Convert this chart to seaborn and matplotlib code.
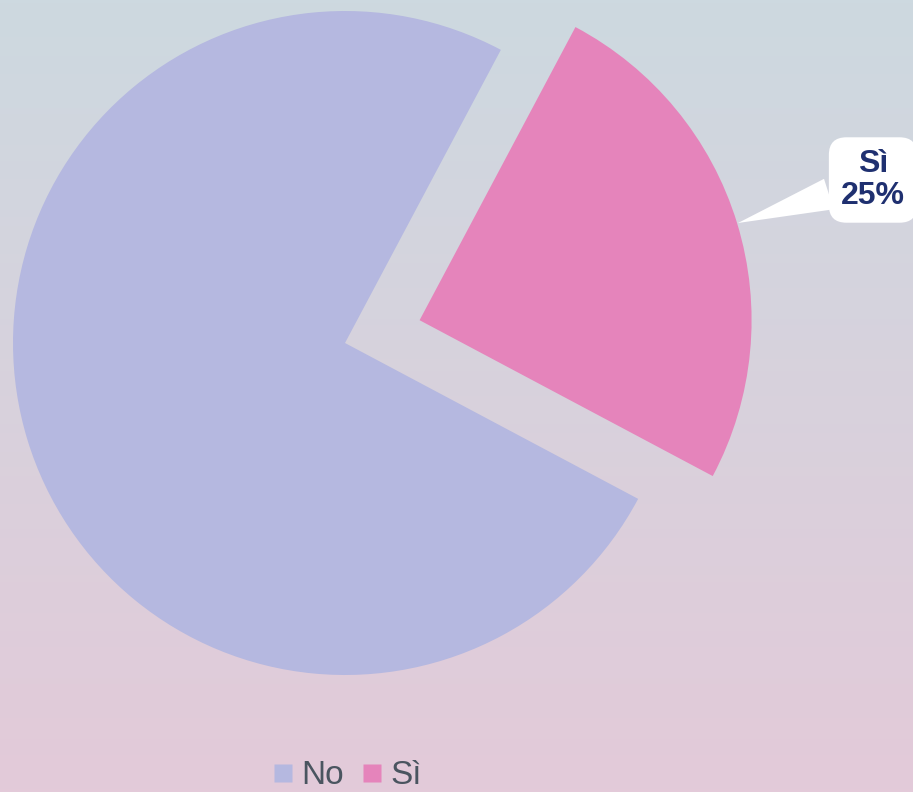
import numpy as np
import matplotlib
matplotlib.use("Agg")
import matplotlib.pyplot as plt
from matplotlib.lines import Line2D
from matplotlib.colors import LinearSegmentedColormap
import seaborn as sns

categories = ["No", "Sì"]
values = [75, 25]
label_text = "Sì\n25%"
colors = ["#B5B8E0", "#E584BB"]

sns.set_style("white")
plt.rcParams['font.family'] = ['Liberation Sans', 'DejaVu Sans']

W, H = 913, 792
fig = plt.figure(figsize=(W / 100, H / 100), dpi=100)
ax = fig.add_axes([0, 0, 1, 1])
ax.set_xlim(0, W)
ax.set_ylim(0, H)
ax.set_axis_off()

# gradient background
cmap = LinearSegmentedColormap.from_list("bg", ["#E3CAD9", "#CDD9E0"])
grad = np.linspace(0, 1, 256).reshape(-1, 1)
ax.imshow(grad, extent=[0, W, 0, H], origin="lower", cmap=cmap, aspect="auto", zorder=0)

pal = sns.color_palette(colors)
wedges, _ = ax.pie(values, colors=pal, startangle=62, counterclock=True,
                   center=(345, 449), radius=332, explode=[0, 78],
                   wedgeprops=dict(linewidth=0), frame=True)
for w in wedges:
    w.set_zorder(2)
ax.set_xlim(0, W)
ax.set_ylim(0, H)
ax.set_aspect("equal")
ax.set_axis_off()

ax.annotate(label_text, xy=(738, 569), xytext=(873, 612),
            ha="center", va="center", fontsize=23, fontweight="bold",
            color="#1F3070", linespacing=1.05, zorder=5,
            bbox=dict(boxstyle="round,pad=0.38,rounding_size=0.55", fc="white", ec="none"),
            arrowprops=dict(arrowstyle="wedge,tail_width=1.0,shrink_factor=0.5",
                            fc="white", ec="none", shrinkA=0, shrinkB=0))

handles = [Line2D([0], [0], marker="s", linestyle="none", markersize=12.5,
                  markerfacecolor=c, markeredgecolor="none") for c in pal]
leg = fig.legend(handles, categories, loc="center", bbox_to_anchor=(348 / W, 1 - 776 / H),
                 ncol=2, frameon=False, fontsize=24, handlelength=0.5, handletextpad=0.3,
                 columnspacing=0.6, labelcolor="#4A5560")

fig.savefig("out.png", dpi=100)
